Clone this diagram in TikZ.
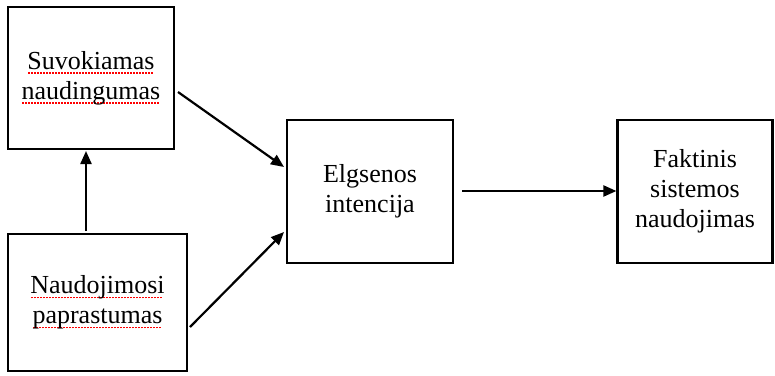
\documentclass[tikz,border=0pt]{standalone}
\usepackage{fontspec}
\setmainfont{Liberation Serif}
\usetikzlibrary{arrows.meta}
\newcommand\spl[1]{\setbox0\hbox{#1}\rlap{\color{red}\raisebox{-4.5pt}{\hbox to \wd0{\leaders\hbox to 3pt{\hss\rule{1.6pt}{1.6pt}\hss}\hfill}}}\box0}
\tikzset{
  box/.style={draw, line width=2.2pt, align=center, font=\fontsize{26}{30}\selectfont, inner sep=0pt},
  arr/.style={line width=2.2pt, -{Triangle[length=13pt,width=11pt]}}
}
\begin{document}
\begin{tikzpicture}[x=1pt,y=-1pt]
\useasboundingbox (0,0) rectangle (775,375);
\node[box, minimum width=166pt, minimum height=142pt] (b1) at (91,78) {\spl{Suvokiamas}\\\spl{naudingumas}};
\node[box, minimum width=179pt, minimum height=137pt] (b2) at (97.5,302.5) {\spl{Naudojimosi}\\\spl{paprastumas}};
\node[box, minimum width=166pt, minimum height=143pt] (b3) at (370,191.5) {Elgsenos\\intencija};
\node[box, minimum width=155pt, minimum height=143pt] (b4) at (695,191.5) {Faktinis\\sistemos\\naudojimas};
\coordinate (a1s) at (178,92);
\coordinate (a1e) at (284,167);
\coordinate (a2s) at (190,327);
\coordinate (a2e) at (284,232);
\coordinate (a3s) at (86,231);
\coordinate (a3e) at (86,151);
\coordinate (a4s) at (462,191);
\draw[arr] (a1s) -- (a1e);
\draw[arr] (a2s) -- (a2e);
\draw[arr] (a3s) -- (a3e);
\draw[arr] (a4s) -- (b4.west |- a4s);
\end{tikzpicture}
\end{document}
